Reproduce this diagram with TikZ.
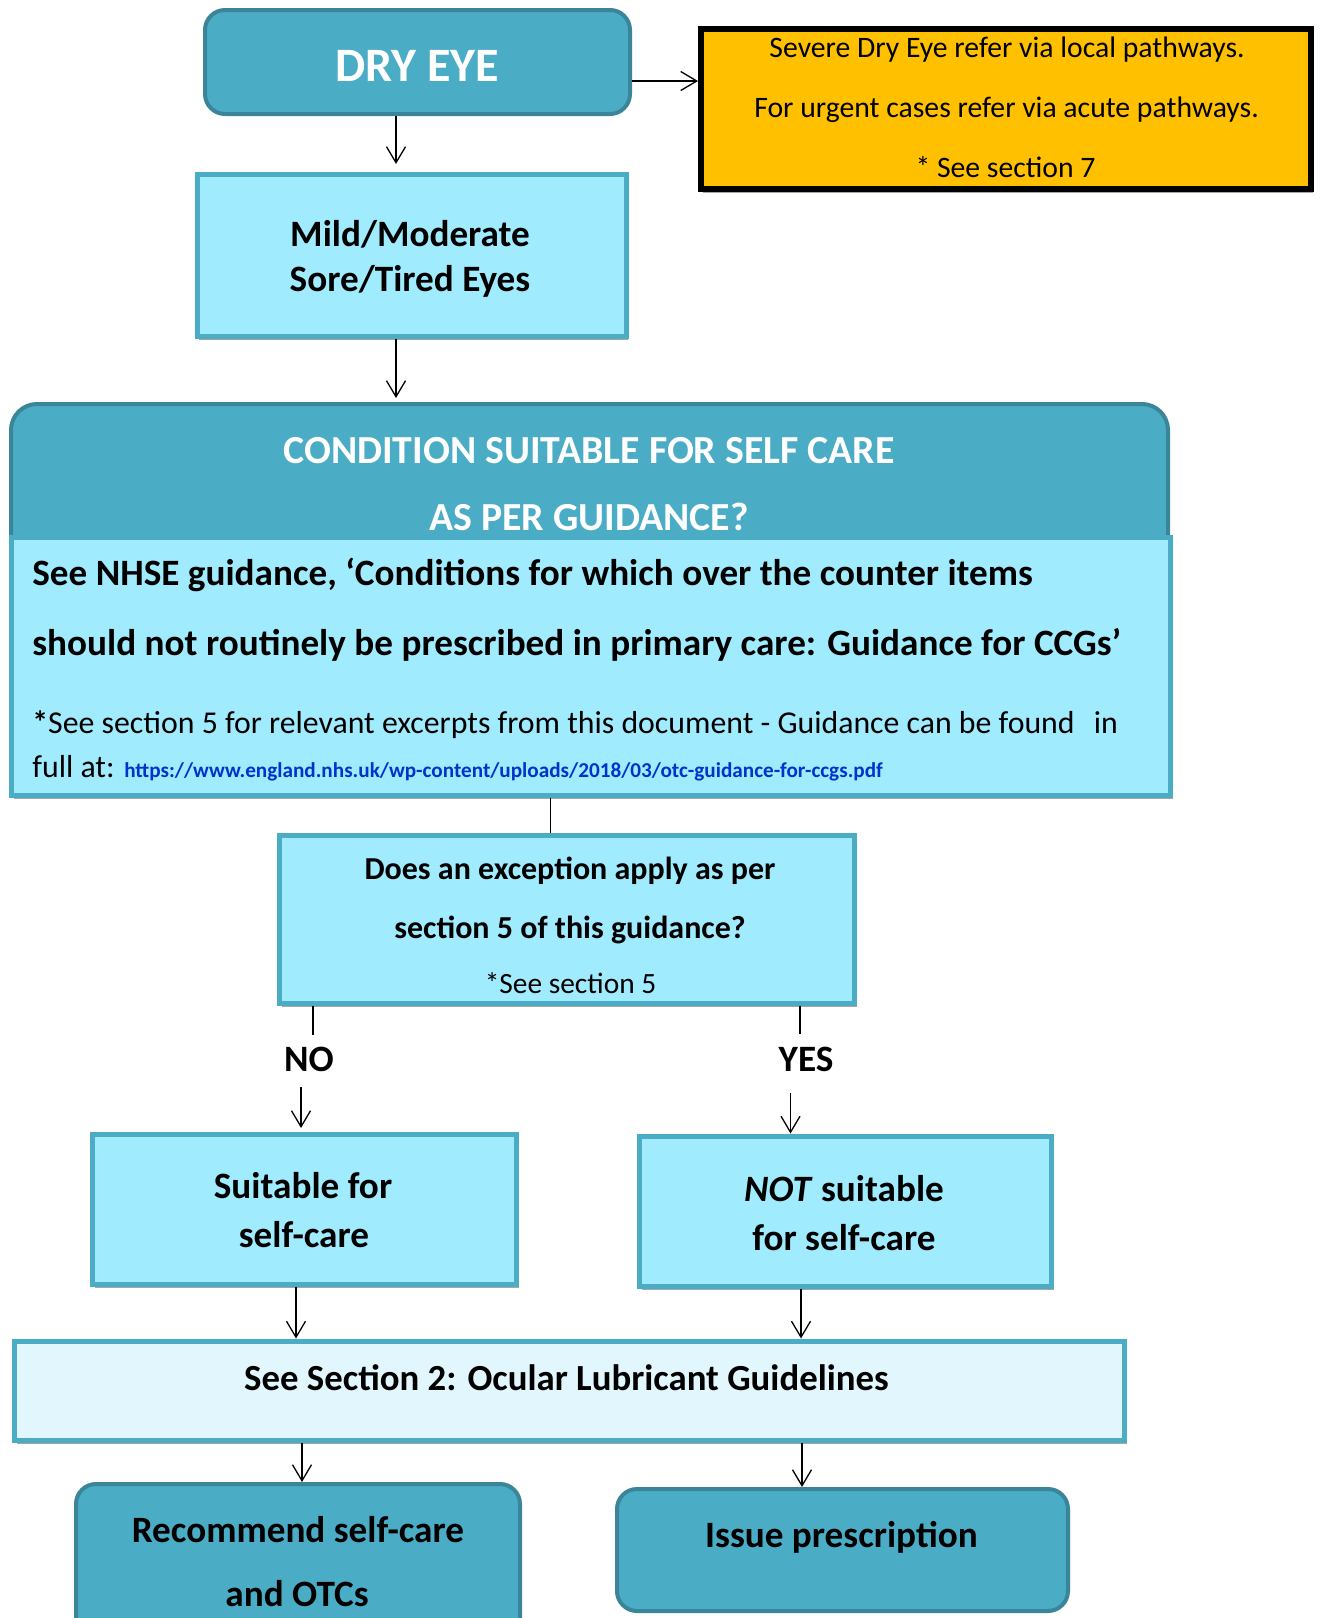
\documentclass[tikz,border=0pt]{standalone}
\usepackage{fontspec}
\setmainfont{Carlito}
\usetikzlibrary{arrows.meta,shadows}
\definecolor{darkfill}{HTML}{4BACC6}
\definecolor{darkline}{HTML}{3B8599}
\definecolor{lightfill}{HTML}{A0EBFE}
\definecolor{boxline}{HTML}{4BACC6}
\definecolor{palefill}{HTML}{E2F6FD}
\definecolor{orangefill}{HTML}{FFC000}
\definecolor{urlblue}{HTML}{0033CC}
\begin{document}
\begin{tikzpicture}[x=0.5pt,y=-0.5pt,
  shad/.style={drop shadow={shadow xshift=1.2pt,shadow yshift=-2pt,opacity=0.35,fill=black}},
  box/.style={draw=boxline,line width=2.5pt,fill=lightfill,inner sep=0pt,shad},
  darkbox/.style={draw=darkline,line width=2pt,fill=darkfill,rounded corners=10pt,inner sep=0pt},
  arr/.style={-{Straight Barb[length=8pt,width=9.5pt]},line width=0.65pt},
  ln/.style={line width=0.65pt},
  tb/.style={anchor=base,inner sep=0pt},
  tl/.style={anchor=base west,inner sep=0pt},
  bigb/.style={font=\fontsize{18.6}{22}\selectfont\bfseries}]
\useasboundingbox (0,0) rectangle (1321,1618);
\clip (0,0) rectangle (1321,1618);

% boxes
\node[darkbox,minimum width=212.5pt,minimum height=52pt] (dry) at (417.5,62) {};
\node[draw=black,line width=3pt,fill=orangefill,inner sep=0pt,shad,minimum width=305pt,minimum height=80pt] (ref) at (1006,109) {};
\node[box,minimum width=214.5pt,minimum height=81pt] (mild) at (411.5,255) {};
\node[darkbox,rounded corners=13pt,minimum width=578.5pt,minimum height=96pt] (cond) at (589.5,500) {};
\node[box,minimum width=579.5pt,minimum height=129pt] (guide) at (591,666) {};
\node[box,minimum width=287.5pt,minimum height=84pt] (q) at (567,919) {};
\node[box,minimum width=212pt,minimum height=75pt] (suit) at (304.5,1209) {};
\node[box,minimum width=206pt,minimum height=75pt] (nots) at (845.5,1211) {};
\node[box,fill=palefill,minimum width=555pt,minimum height=49.5pt] (sec) at (569.5,1390.5) {};
\node[darkbox,minimum width=222pt,minimum height=88pt] (rec) at (298,1572) {};
\node[darkbox,minimum width=225.5pt,minimum height=61pt] (iss) at (842.5,1550) {};

% texts
\node[tb,text=white,font=\fontsize{24}{28}\selectfont\bfseries] (tdry) at (417,81) {DRY EYE};
\node[tb,font=\fontsize{14.85}{17}\selectfont] (tr1) at (1007,57) {Severe Dry Eye refer via local pathways.};
\node[tb,font=\fontsize{14.85}{17}\selectfont] (tr2) at (1006.5,117) {For urgent cases refer via acute pathways.};
\node[tb,font=\fontsize{14.85}{17}\selectfont] (tr3) at (1005.5,177) {* See section 7};
\node[tb,font=\fontsize{18.6}{22}\selectfont\bfseries] (tm1) at (410,246) {Mild/Moderate};
\node[tb,font=\fontsize{18.6}{22}\selectfont\bfseries] (tm2) at (410,291) {Sore/Tired Eyes};
\node[tb,text=white,font=\fontsize{19.9}{22}\selectfont\bfseries] (tc1) at (589,463) {CONDITION SUITABLE FOR SELF CARE};
\node[tb,text=white,font=\fontsize{19.9}{22}\selectfont\bfseries] (tc2) at (589,530) {AS PER GUIDANCE?};
\node[tl,bigb] (tg1) at (32,585) {See NHSE guidance, ‘Conditions for which over the counter items};
\node[tl,bigb] (tg2) at (32,655) {should not routinely be prescribed in primary care: Guidance for CCGs’};
\node[tl,font=\fontsize{15.9}{18}\selectfont] (tg3) at (32,733) {{\bfseries *}See section 5 for relevant excerpts from this document - Guidance can be found\hspace{6pt} in};
\node[tl,font=\fontsize{15.9}{18}\selectfont] (tg4) at (32,777) {full at: {\color{urlblue}\fontsize{10.6}{12}\selectfont\bfseries https://www.england.nhs.uk/wp-content/uploads/2018/03/otc-guidance-for-ccgs.pdf}};
\node[tb,font=\fontsize{16}{19}\selectfont\bfseries] (tq1) at (570,879) {Does an exception apply as per};
\node[tb,font=\fontsize{16}{19}\selectfont\bfseries] (tq2) at (570,938) {section 5 of this guidance?};
\node[tb,font=\fontsize{14.7}{17}\selectfont] (tq3) at (570.5,993) {*See section 5};
\node[tb,bigb] (tno) at (309,1071) {NO};
\node[tb,bigb] (tyes) at (806,1071) {YES};
\node[tb,bigb] (ts1) at (303,1198) {Suitable for};
\node[tb,bigb] (ts2) at (304,1247) {self-care};
\node[tb,bigb] (tn1) at (844,1201) {\textit{NOT} suitable};
\node[tb,bigb] (tn2) at (844,1250) {for self-care};
\node[tb,font=\fontsize{18.4}{22}\selectfont\bfseries] (tsec) at (566.5,1390) {See Section 2: Ocular Lubricant Guidelines};
\node[tb,bigb] (trec1) at (298,1542) {Recommend self-care};
\node[tb,bigb] (trec2) at (297,1606) {and OTCs};
\node[tb,bigb] (tiss) at (841.5,1547) {Issue prescription};

% connector points
\coordinate (a1) at (396,164);
\coordinate (a2) at (396,398);
\coordinate (a3) at (700,81);
\coordinate (a4) at (550.5,0);
\coordinate (nA) at (313,1035);
\coordinate (nB) at (301,1087);
\coordinate (nC) at (301,1128);
\coordinate (yA) at (800,1034);
\coordinate (yB) at (790.5,1093);
\coordinate (s1) at (296,0);
\coordinate (s2) at (801,0);
\coordinate (r1) at (302,0);
\coordinate (r2) at (802,0);

% connectors
\draw[arr] (dry.east |- a3) -- (ref.west |- a3);
\draw[arr] (dry.south -| a1) -- (a1);
\draw[arr] (mild.south -| a2) -- (a2);
\draw[ln] (guide.south -| a4) -- (q.north -| a4);
\draw[ln] (q.south -| nA) -- (nA);
\draw[arr] (nB) -- (nC);
\draw[ln] (q.south -| yA) -- (yA);
\draw[arr] (yB) -- (nots.north -| yB);
\draw[arr] (suit.south -| s1) -- (sec.north -| s1);
\draw[arr] (nots.south -| s2) -- (sec.north -| s2);
\draw[arr] (sec.south -| r1) -- (rec.north -| r1);
\draw[arr] (sec.south -| r2) -- (iss.north -| r2);
\end{tikzpicture}
\end{document}
